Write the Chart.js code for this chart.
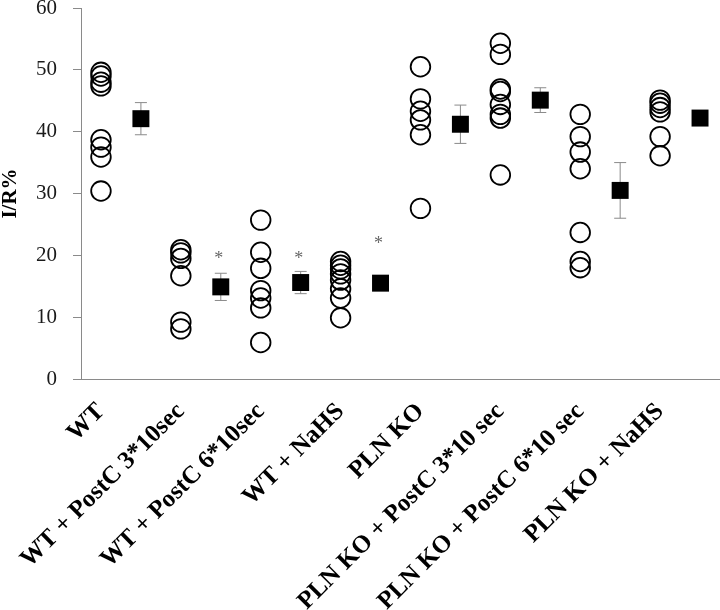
<!DOCTYPE html>
<html>
<head>
<meta charset="utf-8">
<script src="https://cdn.jsdelivr.net/npm/chart.js@4"></script>
<style>
  body { margin: 0; background: #fff; }
</style>
</head>
<body>
<canvas id="chart" width="720" height="610"></canvas>
<script>
var groups = ['WT', 'WT + PostC 3*10sec', 'WT + PostC 6*10sec', 'WT + NaHS', 'PLN KO',
  'PLN KO + PostC 3*10 sec', 'PLN KO + PostC 6*10 sec', 'PLN KO + NaHS'];

// individual hearts, one array per group
var wt = [49.6, 49.0, 48.0, 47.4, 38.7, 37.5, 35.9, 30.4];
var wtPost3 = [20.9, 20.4, 19.5, 16.7, 9.2, 8.1];
var wtPost6 = [25.7, 20.5, 17.9, 14.3, 13.1, 11.5, 5.9];
var wtNaHS = [19.0, 18.4, 17.8, 17.0, 16.0, 14.6, 13.1, 9.9];
var pln = [50.5, 45.3, 43.3, 41.9, 39.5, 27.6];
var plnPost3 = [54.3, 52.5, 46.9, 46.5, 44.4, 42.8, 42.2, 33.0];
var plnPost6 = [42.8, 39.2, 36.7, 34.0, 23.7, 19.0, 18.0];
var plnNaHS = [45.1, 44.6, 43.9, 43.2, 39.2, 36.1];

// group mean and error
var means = [42.1, 14.9, 15.6, 15.5, 41.2, 45.1, 30.5, 42.2];
var errs = [2.6, 2.2, 1.8, 1.0, 3.1, 2.0, 4.5, 1.0];

// significance marks: group index and height
var starGroups = [1, 2, 3];
var starHeights = [19.9, 19.8, 22.2];

var individual = [wt, wtPost3, wtPost6, wtNaHS, pln, plnPost3, plnPost6, plnNaHS];

var circlePoints = [];
individual.forEach(function(vals, i) {
  vals.forEach(function(v) { circlePoints.push({x: 2 * i + 0.5, y: v}); });
});
var meanPoints = means.map(function(m, i) { return {x: 2 * i + 1.5, y: m}; });

var errorBars = {
  id: 'errorBars',
  beforeDatasetsDraw: function(chart) {
    var ctx = chart.ctx, xs = chart.scales.x, ys = chart.scales.y;
    ctx.save();
    ctx.strokeStyle = '#8a8a8a';
    ctx.lineWidth = 1;
    means.forEach(function(m, i) {
      var px = xs.getPixelForValue(2 * i + 1.5);
      var top = ys.getPixelForValue(m + errs[i]);
      var bot = ys.getPixelForValue(m - errs[i]);
      ctx.beginPath();
      ctx.moveTo(px, top); ctx.lineTo(px, bot);
      ctx.moveTo(px - 6, top); ctx.lineTo(px + 6, top);
      ctx.moveTo(px - 6, bot); ctx.lineTo(px + 6, bot);
      ctx.stroke();
    });
    ctx.restore();
  },
  afterDatasetsDraw: function(chart) {
    var ctx = chart.ctx, xs = chart.scales.x, ys = chart.scales.y;
    ctx.save();
    ctx.fillStyle = '#666';
    ctx.font = '18px "Liberation Serif"';
    ctx.textAlign = 'center';
    ctx.textBaseline = 'middle';
    starGroups.forEach(function(g, k) {
      ctx.fillText('*', xs.getPixelForValue(2 * g + 1.45), ys.getPixelForValue(starHeights[k]) + 3);
    });
    ctx.restore();
  }
};

var ctx = document.getElementById('chart').getContext('2d');
var myChart = new Chart(ctx, {
  type: 'scatter',
  data: {
    datasets: [
      {
        data: circlePoints,
        pointStyle: 'circle',
        pointRadius: 9.8,
        pointBorderWidth: 1.8,
        borderColor: '#000',
        backgroundColor: 'rgba(0,0,0,0)'
      },
      {
        data: meanPoints,
        pointStyle: 'rect',
        pointRadius: 12,
        pointBorderWidth: 0,
        borderColor: '#000',
        backgroundColor: '#000'
      }
    ]
  },
  options: {
    responsive: false,
    animation: false,
    devicePixelRatio: 1,
    layout: { padding: 0, autoPadding: false },
    plugins: { legend: { display: false }, tooltip: { enabled: false } },
    scales: {
      x: {
        type: 'linear',
        min: 0,
        max: 16,
        grid: { display: false, drawTicks: false },
        border: { display: true, color: '#8a8a8a', width: 1 },
        afterBuildTicks: function(scale) {
          scale.ticks = groups.map(function(g, i) { return {value: 2 * i + 0.5}; });
        },
        afterFit: function(scale) {
          scale.height = 231;
          scale.paddingLeft = 0;
          scale.paddingRight = 0;
        },
        ticks: {
          autoSkip: false,
          minRotation: 45,
          maxRotation: 45,
          padding: 18,
          color: '#000',
          font: { family: '"Liberation Serif"', size: 25, weight: 'bold' },
          callback: function(v) { return groups[Math.round((v - 0.5) / 2)]; }
        }
      },
      y: {
        min: 0,
        max: 60,
        grid: { drawOnChartArea: false, drawTicks: true, tickLength: 8, color: '#8a8a8a' },
        border: { display: true, color: '#8a8a8a', width: 1 },
        afterFit: function(scale) {
          scale.width = 81;
          scale.paddingTop = 8;
          scale.paddingBottom = 0;
        },
        ticks: {
          stepSize: 10,
          padding: 16,
          color: '#1a1a1a',
          font: { family: '"Liberation Serif"', size: 21 }
        },
        title: {
          display: true,
          text: 'I/R%',
          color: '#000',
          padding: 0,
          font: { family: '"Liberation Serif"', size: 21, weight: 'bold', lineHeight: 1 }
        }
      }
    }
  },
  plugins: [errorBars]
});
</script>
</body>
</html>
